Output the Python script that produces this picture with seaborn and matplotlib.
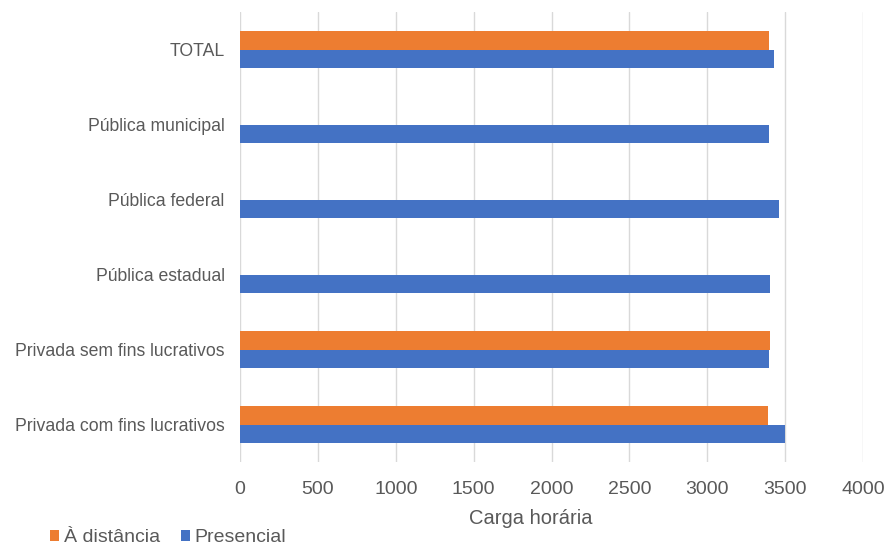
import numpy as np
import pandas as pd
import matplotlib
matplotlib.use("Agg")
import matplotlib.pyplot as plt
import seaborn as sns
from matplotlib.patches import Patch

categories = ["TOTAL", "Pública municipal", "Pública federal", "Pública estadual",
              "Privada sem fins lucrativos", "Privada com fins lucrativos"]
distancia = [3397, np.nan, np.nan, np.nan, 3404, 3391]
presencial = [3431, 3397, 3460, 3404, 3397, 3500]
series_names = ["À distância", "Presencial"]
colors = ["#ED7D31", "#4472C4"]

df = pd.DataFrame({
    "Categoria": categories * 2,
    "Modalidade": [series_names[0]] * len(categories) + [series_names[1]] * len(categories),
    "Carga": distancia + presencial,
})

sns.set_theme(style="white")
plt.rcParams['font.family'] = ['Liberation Sans', 'DejaVu Sans']

fig = plt.figure(figsize=(8.89, 5.47), dpi=100)
ax = fig.add_axes([240/889, 1-462/547, (863-240)/889, 450/547])

sns.barplot(data=df, y="Categoria", x="Carga", hue="Modalidade", order=categories,
            hue_order=series_names, palette=colors, orient="h", width=0.5,
            saturation=1, linewidth=0, ax=ax, legend=False)

ax.set_xlim(0, 4000)
ax.set_xticks(np.arange(0, 4001, 500))
ax.xaxis.grid(True, color="#d9d9d9", linewidth=1)
ax.set_axisbelow(True)
for s in ax.spines.values():
    s.set_visible(False)
ax.tick_params(axis="both", length=0, colors="#595959")
ax.tick_params(axis="x", labelsize=14, pad=14)
ax.tick_params(axis="y", labelsize=12.7, pad=11)
ax.set_ylabel("")
ax.set_xlabel("Carga horária", fontsize=14.5, color="#595959")
ax.xaxis.set_label_coords((531-240)/(863-240), -(519-462)/450, transform=ax.transAxes)
ax.xaxis.label.set_verticalalignment("center")

handles = [Patch(facecolor=c, edgecolor="none") for c in colors]
fig.legend(handles, series_names, loc="center left", bbox_to_anchor=(50/889, 1-538/547),
           ncol=2, frameon=False, fontsize=14, handlelength=0.45, handleheight=0.45,
           handletextpad=0.25, columnspacing=1.1, labelcolor="#595959",
           borderaxespad=0, borderpad=0)

fig.savefig("out.png", dpi=100)
